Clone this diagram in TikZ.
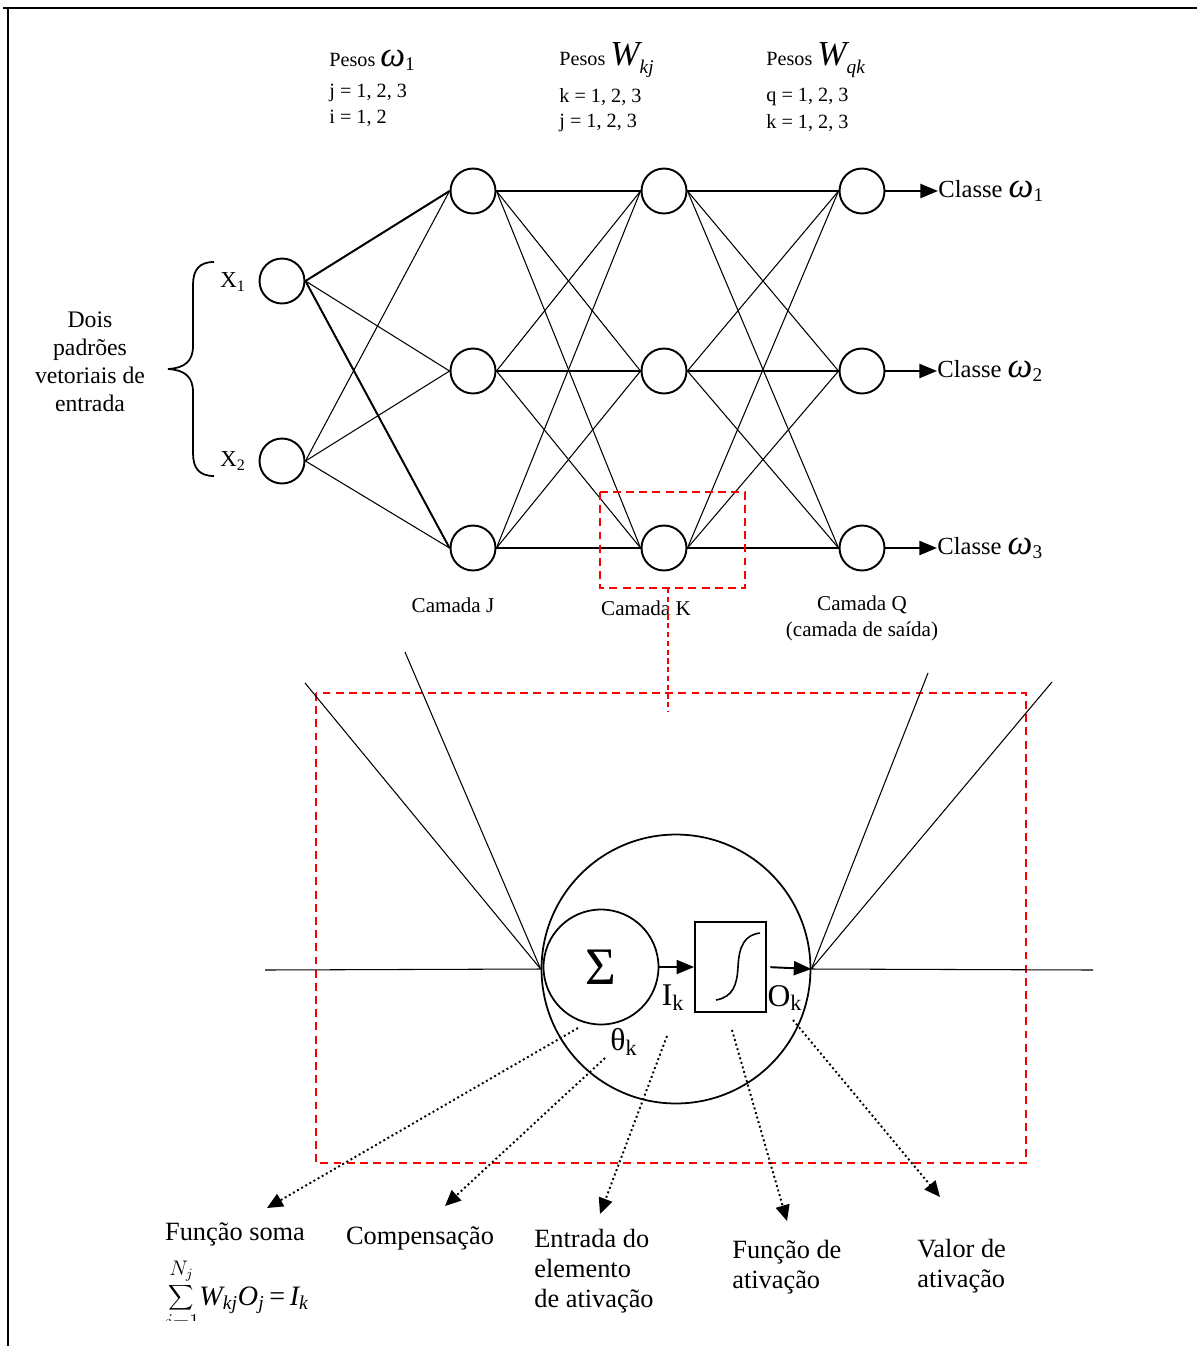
\documentclass[tikz,border=0pt]{standalone}
\usepackage{fontspec}
\setmainfont{Liberation Serif}
\usetikzlibrary{arrows.meta}

\newcommand{\omg}[1]{{\fontsize{20}{20}\selectfont\itshape ω}\raisebox{-2.5pt}{\fontsize{11}{11}\selectfont #1}}
\newcommand{\wsub}[1]{{\fontsize{20}{20}\selectfont\itshape W}\raisebox{-5pt}{\fontsize{11}{11}\selectfont\itshape #1}}

\tikzset{
	neuron/.style={circle, draw, line width=1.1pt, minimum size=0.9cm, inner sep=0pt},
	link/.style={line width=0.6pt},
	wlbl/.style={anchor=west, inner sep=0pt, font=\fontsize{11.5}{14}\selectfont},
	camada/.style={inner sep=0pt, align=center, font=\fontsize{12}{14.8}\selectfont},
	cls/.style={anchor=west, inner sep=0pt, font=\fontsize{14}{16}\selectfont},
	note/.style={inner sep=0pt, align=left, font=\fontsize{15}{17}\selectfont},
	sublbl/.style={inner sep=0pt, font=\fontsize{18}{20}\selectfont},
	zoombox/.style={draw=red, line width=1.1pt, dash pattern=on 4.5pt off 3pt},
	pointer/.style={line width=1.1pt, dash pattern=on 1.1pt off 1.6pt, -{Triangle[length=9pt, width=8pt]}},
	flow/.style={line width=1.1pt, -{Triangle[length=10pt, width=8pt]}}
}

\begin{document}
\begin{tikzpicture}[x=0.02cm, y=-0.02cm]
	\useasboundingbox (0,0) rectangle (1197,1346);
	\draw[line width=1.5pt] (3,8) -- (1197,8);
	\draw[line width=1.5pt] (8,8) -- (8,1346);

	% weight labels
	\node[wlbl] (pw1) at (329,60) {Pesos \omg{1}};
	\node[wlbl] (rj1) at (329,93) {j = 1, 2, 3};
	\node[wlbl] (ri1) at (329,118) {i = 1, 2};
	\node[wlbl] (pw2) at (559,60) {Pesos \wsub{kj}};
	\node[wlbl] (rk2) at (559,97) {k = 1, 2, 3};
	\node[wlbl] (rj2) at (559,123) {j = 1, 2, 3};
	\node[wlbl] (pw3) at (766,60) {Pesos \wsub{qk}};
	\node[wlbl] (rq3) at (766,97) {q = 1, 2, 3};
	\node[wlbl] (rk3) at (766,123) {k = 1, 2, 3};

	% network
	\node[neuron] (x1) at (282,281) {};
	\node[neuron] (x2) at (282,461) {};
	\node[neuron] (j1) at (473,191) {};
	\node[neuron] (j2) at (473,371) {};
	\node[neuron] (j3) at (473,548) {};
	\node[neuron] (k1) at (664,191) {};
	\node[neuron] (k2) at (664,371) {};
	\node[neuron] (k3) at (664,548) {};
	\node[neuron] (q1) at (862,191) {};
	\node[neuron] (q2) at (862,371) {};
	\node[neuron] (q3) at (862,548) {};

	\foreach \a in {x1,x2} \foreach \b in {j1,j2,j3} \draw[link] (\a.east) -- (\b.west);
	\draw[line width=1.1pt] (x1.east) -- (j1.west);
	\draw[line width=1.1pt] (x1.east) -- (j3.west);
	\foreach \a in {j1,j2,j3} \foreach \b in {k1,k2,k3} \draw[link] (\a.east) -- (\b.west);
	\foreach \a in {k1,k2,k3} \foreach \b in {q1,q2,q3} \draw[link] (\a.east) -- (\b.west);

	\node[inner sep=0pt, font=\fontsize{13}{15}\selectfont] (lx1) at (233,282) {X\textsubscript{1}};
	\node[inner sep=0pt, font=\fontsize{13}{15}\selectfont] (lx2) at (233,461) {X\textsubscript{2}};

	\node[cls] (c1) at (938,191) {Classe \omg{1}};
	\node[cls] (c2) at (937,371) {Classe \omg{2}};
	\node[cls] (c3) at (937,548) {Classe \omg{3}};
	\draw[flow] (q1) -- (c1.west);
	\draw[flow] (q2) -- (c2.west);
	\draw[flow] (q3) -- (c3.west);

	% input brace
	\draw[line width=1pt] (214,262) .. controls (199,262) and (193,270) .. (193,285) -- (193,346)
		.. controls (193,361) and (185,368) .. (168,369) .. controls (185,370) and (193,377) .. (193,392)
		-- (193,453) .. controls (193,468) and (199,476) .. (214,476);
	\node[inner sep=0pt, align=center, font=\fontsize{13.5}{16}\selectfont] (dois) at (90,362) {Dois\\padrões\\vetoriais de\\entrada};

	\node[camada] (cj) at (453,605) {Camada J};
	\node[camada] (ck) at (646,608) {Camada K};
	\node[camada] (cq) at (862,618) {Camada Q\\(camada de saída)};

	% zoom boxes
	\draw[zoombox] (600,492) rectangle (745,588);
	\draw[red, line width=0.8pt, dash pattern=on 3pt off 2pt] (668,588) -- (668,712);
	\draw[zoombox] (316,693) rectangle (1026,1163);

	% detail of neuron k
	\node[circle, draw, line width=1pt, minimum size=5.38cm, inner sep=0pt] (bign) at (676,969) {};
	\node[circle, draw, line width=1pt, minimum size=2.3cm, inner sep=0pt, font=\fontsize{30}{30}\selectfont] (sumc) at (601,967) {Σ};
	\node[draw, line width=1pt, minimum width=1.42cm, minimum height=1.8cm, inner sep=0pt] (actbox) at (730.5,967) {};
	\draw[line width=0.9pt] (716,1000) .. controls (733,997) and (737,985) .. (738,967)
		.. controls (739,945) and (745,935) .. (760,933);
	\draw[flow] (sumc.east) -- (actbox.west);
	\draw[flow, shorten <=2pt] (actbox.east) -- (bign.east);

	\coordinate (in1) at (265,970);
	\coordinate (in2) at (305,683);
	\coordinate (in3) at (405,652);
	\coordinate (out1) at (1093,970);
	\coordinate (out2) at (928,673);
	\coordinate (out3) at (1052,682);
	\draw[link] (in1) -- (bign.west);
	\draw[link] (in2) -- (bign.west);
	\draw[link] (in3) -- (bign.west);
	\draw[link] (bign.east) -- (out1);
	\draw[link] (bign.east) -- (out2);
	\draw[link] (bign.east) -- (out3);

	\node[sublbl] (ik) at (673,998) {I\textsubscript{k}};
	\node[sublbl] (ok) at (785,998) {O\textsubscript{k}};
	\node[sublbl] (thk) at (624,1042) {θ\textsubscript{k}};

	% bottom notes
	\node[note] (soma) at (235,1234) {Função soma};
	\begin{scope}
		\clip (0,0) rectangle (1197,1320);
		\node[inner sep=0pt, anchor=base west] (formula) at (163,1305)
			{{\fontsize{17}{17}\selectfont$\displaystyle\sum_{j=1}^{N_j}$}{\fontsize{16}{16}\selectfont\itshape W\textsubscript{kj}O\textsubscript{j}\,{\upshape =}\,I\textsubscript{k}}};
	\end{scope}
	\node[note] (comp) at (420,1238) {Compensação};
	\node[note, anchor=west] (entr) at (534,1271) {Entrada do\\elemento\\de ativação};
	\node[note, anchor=west] (fat) at (732,1267) {Função de\\ativação};
	\node[note, anchor=west] (val) at (917,1266) {Valor de\\ativação};

	\coordinate (p1) at (578,1028);
	\coordinate (p2) at (605,1058);
	\coordinate (p3) at (667,1036);
	\coordinate (p4) at (732,1030);
	\coordinate (p5) at (793,1020);
	\coordinate (t1) at (267,1208);
	\coordinate (t2) at (445,1206);
	\coordinate (t3) at (600,1214);
	\coordinate (t4) at (787,1221);
	\coordinate (t5) at (940,1197);
	\draw[pointer] (p1) -- (t1);
	\draw[pointer] (p2) -- (t2);
	\draw[pointer] (p3) -- (t3);
	\draw[pointer] (p4) -- (t4);
	\draw[pointer] (p5) -- (t5);
\end{tikzpicture}
\end{document}
